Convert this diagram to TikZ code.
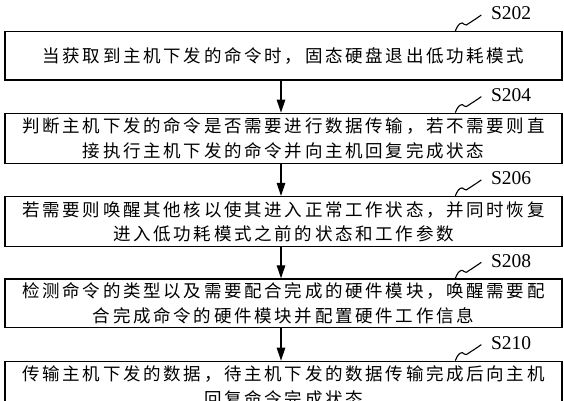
\documentclass[tikz,border=0pt]{standalone}
\usepackage{fontspec}
\setmainfont{Liberation Serif}
\newfontfamily\cjk[LetterSpace=15.4]{Noto Sans CJK SC}
\usetikzlibrary{arrows.meta}
\tikzset{
  stepbox/.style={draw=black, line width=1.4pt, minimum width=557pt, minimum height=50pt,
    inner sep=0pt, align=center, font=\cjk\fontsize{17.5pt}{24.5pt}\selectfont},
  flow/.style={draw=black, line width=1.3pt, -{Triangle[length=13pt,width=8.5pt]}},
  lbl/.style={anchor=west, inner sep=0pt, font=\fontsize{19.5pt}{22pt}\selectfont},
  squig/.style={draw=black, line width=1.1pt}
}
\begin{document}
\begin{tikzpicture}[x=1pt,y=-1pt]
\useasboundingbox (0,0) rectangle (564,400);
\clip (0,0) rectangle (564,400);
\fill[white] (0,0) rectangle (564,400);

\node[stepbox, minimum height=48.3pt] (b1) at (283.5,55.85) {当获取到主机下发的命令时，固态硬盘退出低功耗模式};
\node[stepbox] (b2) at (283.5,138.3) {判断主机下发的命令是否需要进行数据传输，若不需要则直\\接执行主机下发的命令并向主机回复完成状态};
\node[stepbox] (b3) at (283.5,221.6) {若需要则唤醒其他核以使其进入正常工作状态，并同时恢复\\进入低功耗模式之前的状态和工作参数};
\node[stepbox, minimum height=48.3pt] (b4) at (283.5,303.15) {检测命令的类型以及需要配合完成的硬件模块，唤醒需要配\\合完成命令的硬件模块并配置硬件工作信息};
\node[stepbox] (b5) at (283.5,386.3) {传输主机下发的数据，待主机下发的数据传输完成后向主机\\回复命令完成状态};

\draw[flow] ([xshift=-2.5pt]b1.south) -- ([xshift=-2.5pt]b2.north);
\draw[flow] ([xshift=-2.5pt]b2.south) -- ([xshift=-2.5pt]b3.north);
\draw[flow] ([xshift=-2.5pt]b3.south) -- ([xshift=-2.5pt]b4.north);
\draw[flow] ([xshift=-2.5pt]b4.south) -- ([xshift=-2.5pt]b5.north);

\foreach \b/\t in {b1/S202,b2/S204,b3/S206,b4/S208,b5/S210}{
  \node[lbl] (l\b) at ([xshift=486.5pt,yshift=17.5pt]\b.north west) {\t};
  \coordinate (s\b) at ([xshift=451pt]\b.north west);
  \draw[squig] (s\b) .. controls +(2,-5) and +(-3,0) .. ++(7,-8)
     .. controls +(2,0) and +(-2,1) .. ++(4,2)
     .. controls +(3,-2) and +(-4,3) .. ++(15,-10);
}
\end{tikzpicture}
\end{document}
